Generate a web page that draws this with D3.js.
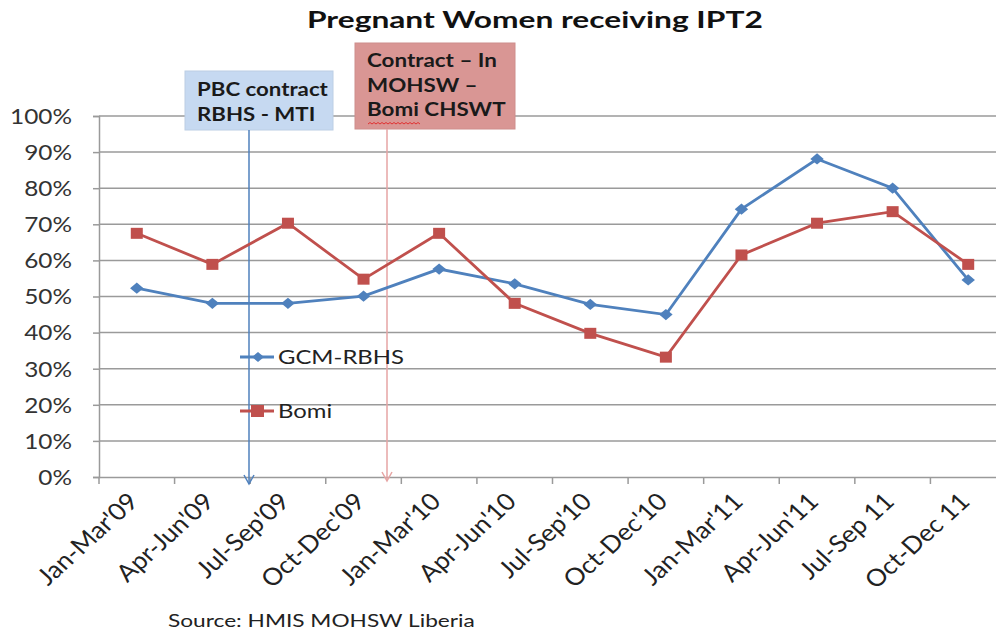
<!DOCTYPE html>
<html><head><meta charset="utf-8">
<script src="https://cdn.jsdelivr.net/npm/d3@7"></script>
<style>body{margin:0;background:#fff}svg{display:block}</style>
</head><body><svg id="c" width="996" height="630"></svg>
<script>
const categories = ["Jan-Mar'09","Apr-Jun'09","Jul-Sep'09","Oct-Dec'09","Jan-Mar'10","Apr-Jun'10","Jul-Sep'10","Oct-Dec'10","Jan-Mar'11","Apr-Jun'11","Jul-Sep 11","Oct-Dec 11"];
const gcmValues = [0.523, 0.481, 0.481, 0.501, 0.576, 0.535, 0.478, 0.450, 0.742, 0.881, 0.800, 0.546];
const bomiValues = [0.675, 0.589, 0.703, 0.548, 0.675, 0.481, 0.398, 0.332, 0.615, 0.703, 0.735, 0.589];
const yTicks = [0,0.1,0.2,0.3,0.4,0.5,0.6,0.7,0.8,0.9,1.0];
const seriesNames = ["GCM-RBHS","Bomi"];
const titleText = "Pregnant Women receiving IPT2";
const sourceText = "Source: HMIS MOHSW Liberia";
const note1 = ["PBC contract","RBHS - MTI"];
const note2 = ["Contract \u2013 In","MOHSW \u2013","Bomi CHSWT"];

const svg = d3.select("#c");
const font = "Lato, 'Open Sans', sans-serif";
const pLeft = 99, pRight = 1006, pTop = 116, pBottom = 477;
const x = d3.scaleBand().domain(categories).range([pLeft, pRight]);
const y = d3.scaleLinear().domain([0,1]).range([pBottom, pTop]);
const blue = "#4F81BD", red = "#C0504D", grid = "#9a9a9a";
const SX = 1.1;

const meas = svg.append("text").attr("font-family", font).attr("visibility","hidden");
function natural(str, size, weight) {
  meas.attr("font-size", size).attr("font-weight", weight || "normal").text(str);
  return meas.node().getComputedTextLength();
}
function txt(str, px, py, size, weight, target, anchor, fill) {
  const sx = target ? target / natural(str, size, weight) : SX;
  return svg.append("text").text(str)
    .attr("transform", `translate(${px},${py}) scale(${sx},1)`)
    .attr("font-family", font).attr("font-size", size).attr("font-weight", weight || "normal")
    .attr("text-anchor", anchor || "start").attr("fill", fill || "#222");
}

// gridlines
svg.append("g").selectAll("line").data(yTicks.filter(d=>d>0)).join("line")
  .attr("x1", pLeft).attr("x2", 996).attr("y1", d=>y(d)).attr("y2", d=>y(d))
  .attr("stroke", grid).attr("stroke-width", 1.5);

// y axis
const ySize = 21;
const ySx = 62 / natural("100%", ySize);
const ya = svg.append("g").attr("transform", `translate(${pLeft},0)`)
  .call(d3.axisLeft(y).tickValues(yTicks).tickFormat(d3.format(".0%")).tickSize(6).tickPadding(0));
ya.select(".domain").attr("stroke", grid).attr("stroke-width", 1.5);
ya.selectAll(".tick line").attr("stroke", grid).attr("stroke-width", 1.5);
ya.selectAll(".tick text").attr("x", 0).attr("dy", "0.35em")
  .attr("transform", `translate(-27,0) scale(${ySx},1)`)
  .attr("font-family", font).attr("font-size", ySize).attr("fill", "#333");

// x axis
const xa = svg.append("g").attr("transform", `translate(0,${pBottom})`)
  .call(d3.axisBottom(x).tickSize(0).tickFormat(d=>d));
xa.select(".domain").attr("stroke", grid).attr("stroke-width", 1.5);
xa.selectAll(".tick line").remove();
svg.append("g").selectAll("line").data(categories).join("line")
  .attr("x1", d=>x(d)).attr("x2", d=>x(d)).attr("y1", pBottom).attr("y2", pBottom+7)
  .attr("stroke", grid).attr("stroke-width", 1.5);
const xSize = 19 * 118 / natural("Jan-Mar'09", 19);
xa.selectAll(".tick text")
  .attr("font-family", font).attr("font-size", xSize).attr("fill", "#222")
  .attr("text-anchor", "end").attr("y", 0).attr("dy", "0")
  .attr("transform", `translate(3,26) scale(${SX},1) rotate(-45)`);

// annotation boxes
function note(x0, y0, w, h, fill, lines, lx, arrowColor, ybot, base, target) {
  svg.append("rect").attr("x", x0).attr("y", y0).attr("width", w).attr("height", h)
    .attr("fill", fill).attr("stroke", d3.color(fill).darker(0.15)).attr("stroke-width", 1);
  const sx = target / natural(lines[0], 18, "bold");
  lines.forEach((t,i)=>{
    svg.append("text").text(t)
      .attr("transform", `translate(${x0+12},${base+i*24.5}) scale(${sx},1)`)
      .attr("font-family", font).attr("font-weight", "bold").attr("font-size", 18).attr("fill", "#1a1a1a");
  });
  svg.append("line").attr("x1", lx).attr("x2", lx).attr("y1", y0+h).attr("y2", ybot)
    .attr("stroke", arrowColor).attr("stroke-width", 1.5);
  svg.append("path").attr("d", `M${lx-5},${ybot-9} L${lx},${ybot} L${lx+5},${ybot-9}`)
    .attr("fill", "none").attr("stroke", arrowColor).attr("stroke-width", 1.5);
}
note(185, 71, 148, 59, "#C6D9F1", note1, 249, "#4F81BD", 484, 96, 131);
note(355, 43, 160, 86, "#D99694", note2, 387, "#E6A5A4", 481, 67, 130);
(function(){
  let d = "M368,124";
  for (let i=0;i<26;i++){ d += ` l2,${i%2?1.5:-1.5}`; }
  svg.append("path").attr("d", d).attr("fill","none").attr("stroke","#e03030").attr("stroke-width",1);
})();

// lines
const line = d3.line().x((d,i)=>x(categories[i])+x.bandwidth()/2).y(d=>y(d));
svg.append("path").datum(gcmValues).attr("d", line).attr("fill","none").attr("stroke",blue).attr("stroke-width",2.8);
svg.append("path").datum(bomiValues).attr("d", line).attr("fill","none").attr("stroke",red).attr("stroke-width",2.8);
svg.append("g").selectAll("path").data(gcmValues).join("path")
  .attr("transform",(d,i)=>`translate(${x(categories[i])+x.bandwidth()/2},${y(d)}) scale(1.2,1)`)
  .attr("d", d3.symbol().type(d3.symbolDiamond2).size(80)).attr("fill", blue);
svg.append("g").selectAll("rect").data(bomiValues).join("rect")
  .attr("x",(d,i)=>x(categories[i])+x.bandwidth()/2-6).attr("y",d=>y(d)-5.5)
  .attr("width",12).attr("height",11).attr("fill", red);

// legend
const leg = [{name:seriesNames[0], c:blue, y:357, m:"d"},{name:seriesNames[1], c:red, y:411, m:"s"}];
const legSx = 126 / natural(seriesNames[0], 19);
leg.forEach(l=>{
  svg.append("line").attr("x1",240).attr("x2",274).attr("y1",l.y).attr("y2",l.y).attr("stroke",l.c).attr("stroke-width",2.8);
  if (l.m==="d") svg.append("path").attr("transform",`translate(258,${l.y}) scale(1.2,1)`).attr("d", d3.symbol().type(d3.symbolDiamond2).size(64)).attr("fill",l.c);
  else svg.append("rect").attr("x",251).attr("y",l.y-6).attr("width",13).attr("height",12).attr("fill",l.c);
  svg.append("text").text(l.name).attr("transform",`translate(278,${l.y+7}) scale(${legSx},1)`)
    .attr("font-family",font).attr("font-size",19).attr("fill","#222");
});

// title & source
txt(titleText, 307, 28, 22, "bold", 456, "start", "#111");
txt(sourceText, 168, 627, 17, "normal", 307, "start", "#222");
</script></body></html>
